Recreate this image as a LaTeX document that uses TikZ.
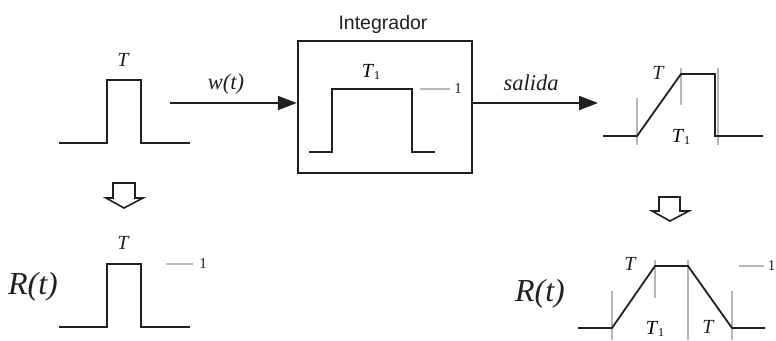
\documentclass[tikz,border=0pt]{standalone}
\usepackage{fontspec}
\setmainfont{Liberation Serif}
\newfontfamily\labsans{Liberation Sans}
\usetikzlibrary{arrows.meta}
\definecolor{ink}{HTML}{231F20}
\definecolor{guide}{HTML}{B4B6B8}
\newcommand{\Tone}{\textit{T}\raisebox{-0.3ex}{\fontsize{12}{12}\selectfont 1}}
\tikzset{
  sig/.style={draw=ink, line width=1.8pt, line join=miter},
  guideline/.style={draw=guide, line width=1.2pt},
  lab/.style={font=\fontsize{20}{24}\selectfont\itshape, inner sep=0pt, text=ink},
  arrlab/.style={font=\fontsize{22.5}{26}\selectfont\itshape, inner sep=0pt, text=ink},
  biglab/.style={font=\fontsize{32}{36}\selectfont\itshape, inner sep=0pt, text=ink},
  onelab/.style={font=\fontsize{15}{18}\selectfont, inner sep=0pt, text=ink},
  integbox/.style={draw=ink, line width=2.4pt, minimum width=174pt, minimum height=132pt, inner sep=0pt},
  flowarrow/.style={draw=ink, line width=2pt, -{Triangle[length=19pt,width=14pt]}},
  hollow/.style={draw=ink, line width=1.6pt, fill=white, line join=miter}
}
\begin{document}
\begin{tikzpicture}[x=1pt,y=-1pt]
\useasboundingbox (0,0) rectangle (776,340);

% ---------- top-left input pulse ----------
\draw[sig] (59,143) -- (107,143) -- (107,80) -- (141,80) -- (141,143) -- (190,143);
\node[lab] (tA) at (123,60) {T};

% ---------- integrator box ----------
\node[integbox] (box) at (385,107) {};
\node[font=\fontsize{19.5}{22}\selectfont\labsans, text=ink, inner sep=0pt] (integ) at (383,24) {Integrador};
\draw[sig] (309,152) -- (332,152) -- (332,89) -- (412,89) -- (412,152) -- (435,152);
\draw[guideline] (420,89) -- (450,89);
\node[onelab] (oneB) at (458,89) {1};
\node[inner sep=0pt, font=\fontsize{20}{24}\selectfont] (t1B) at (371,72) {\Tone};

% ---------- connectors ----------
\coordinate (win) at (170,103);
\coordinate (sout) at (598,103);
\draw[flowarrow] (win) -- (box.west |- win);
\draw[flowarrow] (box.east |- sout) -- (sout);
\node[arrlab] (wt) at (226,84) {w(t)};
\node[arrlab] (salida) at (531,83) {salida};

% ---------- top-right output ----------
\draw[guideline] (637,98) -- (637,145);
\draw[guideline] (681,68) -- (681,105);
\draw[guideline] (718,68) -- (718,145);
\draw[sig] (603,136) -- (637,136) -- (681,74) -- (715,74) -- (715,136) -- (763,136);
\node[lab] (tC) at (658,73) {T};
\node[inner sep=0pt, font=\fontsize{20}{24}\selectfont] (t1C) at (681,137) {\Tone};

% ---------- hollow down arrows ----------
\draw[hollow] (113,183) -- (135,183) -- (135,198) -- (143,198) -- (124,208) -- (106,198) -- (113,198) -- cycle;
\draw[hollow] (659,197) -- (680,197) -- (680,211) -- (689,211) -- (670,221) -- (652,211) -- (659,211) -- cycle;

% ---------- bottom-left R(t) ----------
\node[biglab] (rL) at (33,287) {R(t)};
\draw[sig] (59,327) -- (107,327) -- (107,264) -- (141,264) -- (141,327) -- (190,327);
\node[lab] (tD) at (123,243) {T};
\draw[guideline] (166,264) -- (193,264);
\node[onelab] (oneD) at (203,264) {1};

% ---------- bottom-right R(t) ----------
\node[biglab] (rR) at (540,294) {R(t)};
\draw[guideline] (612,291) -- (612,340);
\draw[guideline] (655,260) -- (655,298);
\draw[guideline] (688,260) -- (688,340);
\draw[guideline] (732,291) -- (732,340);
\draw[sig] (578,328) -- (612,328) -- (655,266) -- (688,266) -- (732,328) -- (765,328);
\draw[guideline] (739,266) -- (764,266);
\node[onelab, anchor=east] (oneE) at (775.5,266) {1};
\node[lab] (tF) at (708,327) {T};
\node[lab] (tE) at (630,264) {T};
\node[inner sep=0pt, font=\fontsize{20}{24}\selectfont] (t1E) at (655,329) {\Tone};
\end{tikzpicture}
\end{document}
